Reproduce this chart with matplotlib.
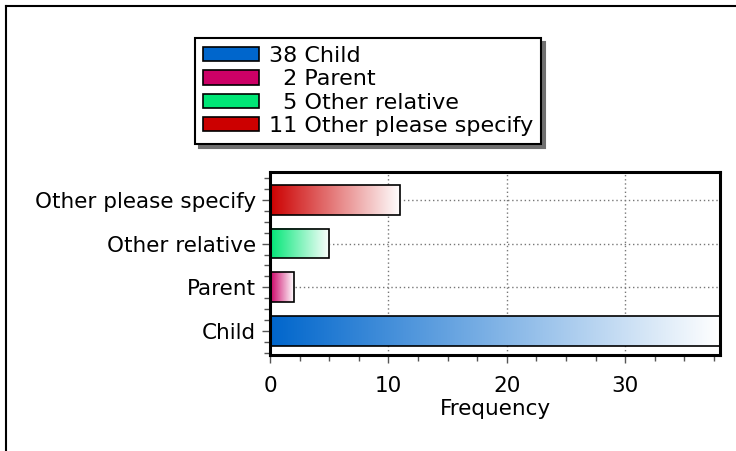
import matplotlib
matplotlib.use("Agg")
import matplotlib.pyplot as plt
import numpy as np
from matplotlib.patches import Patch, Rectangle
from matplotlib.lines import Line2D
from matplotlib.ticker import MultipleLocator

categories = ["Child", "Parent", "Other relative", "Other please specify"]
counts = [38, 2, 5, 11]
colors = ["#0066CC", "#CC0066", "#00E676", "#CC0000"]
legend_labels = ["38 Child", "\u20072 Parent", "\u20075 Other relative", "11 Other please specify"]
x_ticks = [0, 10, 20, 30]

plt.rcParams["font.family"] = ["DejaVu Sans"]
FS = 15.5

fig = plt.figure(figsize=(7.36, 4.51), dpi=100)
W, H = 736, 451

# outer frame (top and left edges)
fig.add_artist(Line2D([6 / W, 1], [1 - 6 / H, 1 - 6 / H], color="black", lw=1.5))
fig.add_artist(Line2D([6 / W, 6 / W], [0, 1 - 6 / H], color="black", lw=1.5))

ax = fig.add_axes([270 / W, 1 - 355 / H, 450 / W, 183 / H])

bar_h = 0.68
ypos = np.arange(len(categories))
for y, v, c in zip(ypos, counts, colors):
    rgb = np.array(matplotlib.colors.to_rgb(c))
    t = np.linspace(0, 1, 256)[None, :, None]
    grad = rgb[None, None, :] * (1 - t) + np.ones(3)[None, None, :] * t
    ax.imshow(grad, extent=(0, v, y - bar_h / 2, y + bar_h / 2), aspect="auto",
              interpolation="bilinear", zorder=2)
    ax.add_patch(Rectangle((0, y - bar_h / 2), v, bar_h, facecolor="none",
                           edgecolor="black", lw=1.2, zorder=3))

ax.set_xlim(0, 38)
ax.set_ylim(-0.55, 3.64)
ax.set_yticks(ypos)
ax.set_yticklabels(categories, fontsize=FS)
ax.set_xticks(x_ticks)
ax.set_xticklabels([str(v) for v in x_ticks], fontsize=FS)
ax.xaxis.set_minor_locator(MultipleLocator(2.5))
ax.yaxis.set_minor_locator(MultipleLocator(0.25))
ax.tick_params(axis="both", which="major", length=6, width=1, color="#555555", pad=4)
ax.tick_params(axis="both", which="minor", length=4, width=1, color="#555555")
ax.tick_params(axis="x", which="major", pad=9)
ax.set_xlabel("Frequency", fontsize=FS, labelpad=2)
ax.grid(True, which="major", linestyle=(0, (1, 2)), color="#777777", lw=1, zorder=1)
ax.set_axisbelow(True)
for s in ax.spines.values():
    s.set_linewidth(2.2)
    s.set_zorder(4)

handles = [Patch(facecolor=c, edgecolor="black", lw=1.2) for c in colors]
leg = fig.legend(handles, legend_labels, loc="upper left",
                 bbox_to_anchor=(195 / W, 1 - 38 / H), bbox_transform=fig.transFigure,
                 fontsize=16, frameon=True, fancybox=False,
                 shadow={"ox": 3, "oy": -3, "color": "#707070", "alpha": 1},
                 handlelength=2.5, handleheight=0.62, labelspacing=0.15,
                 handletextpad=0.45, borderpad=0.36, borderaxespad=0)
leg.get_frame().set_edgecolor("black")
leg.get_frame().set_linewidth(1.5)

fig.savefig("out.png", dpi=100)
